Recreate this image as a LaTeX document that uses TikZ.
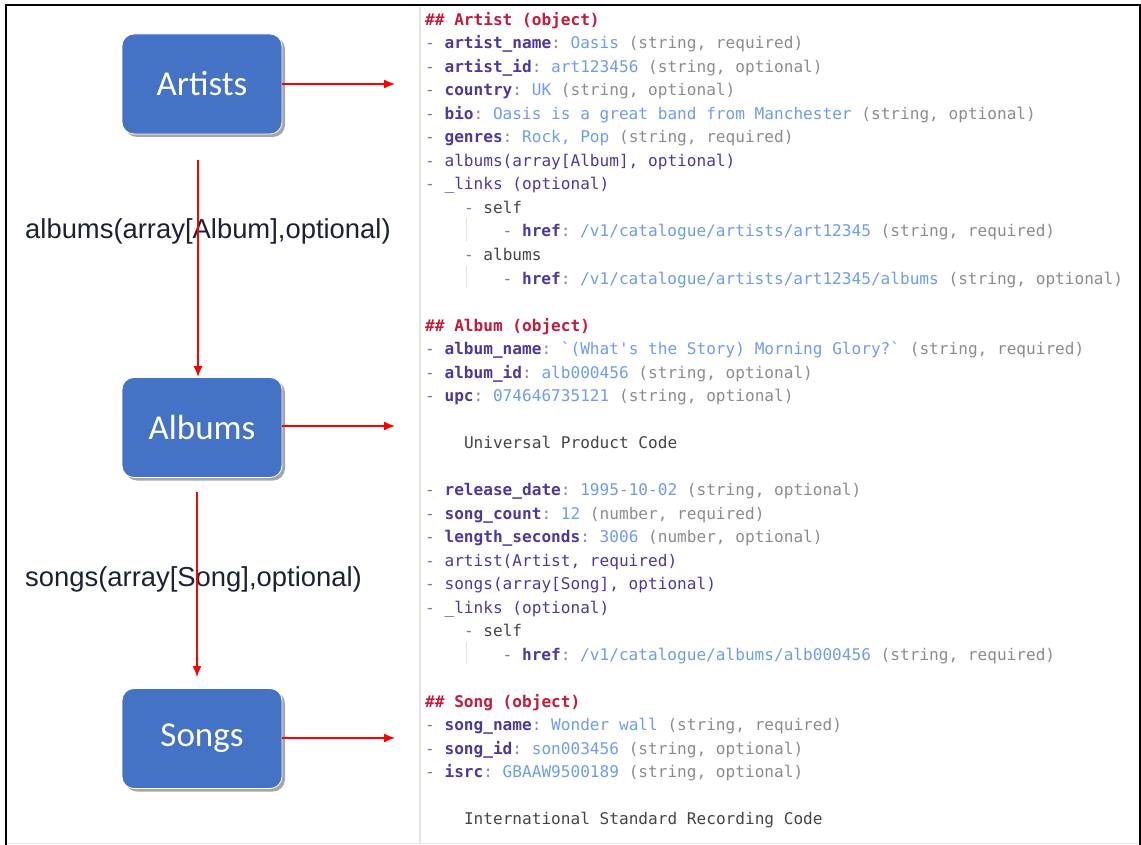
\documentclass[tikz,border=0pt]{standalone}
\usepackage{fontspec}
\usetikzlibrary{arrows.meta,shadows}
\newfontfamily\codefont{DejaVu Sans Mono}[WordSpace={1,0,0},PunctuationSpace=WordSpace,Ligatures=NoCommon]
\newfontfamily\boxfont{Carlito}
\newfontfamily\labfont{Liberation Sans}
\definecolor{hdr}{HTML}{C41A3B}
\definecolor{key}{HTML}{4B3A9E}
\definecolor{val}{HTML}{6E9CF0}
\definecolor{gry}{HTML}{8C8C8C}
\definecolor{dsh}{HTML}{6C7CAE}
\definecolor{txt}{HTML}{454545}
\definecolor{boxblue}{HTML}{4472C4}
\definecolor{labcol}{HTML}{1B2236}
\newcommand\chdr[1]{\textcolor{hdr}{\bfseries #1}}
\newcommand\ckey[1]{\textcolor{key}{\bfseries #1}}
\newcommand\cpur[1]{\textcolor{key}{#1}}
\newcommand\cval[1]{\textcolor{val}{#1}}
\newcommand\cgry[1]{\textcolor{gry}{#1}}
\newcommand\ctxt[1]{\textcolor{txt}{#1}}
\newcommand\cdash{\textcolor{dsh}{- }}
\begin{document}
\begin{tikzpicture}[x=1pt,y=-1pt,
  entity/.style={draw=white, line width=0.8pt, fill=boxblue, rounded corners=12pt,
    minimum width=160pt, minimum height=100pt, text=white,
    font=\boxfont\fontsize{35}{40}\selectfont,
    drop shadow={shadow xshift=3pt, shadow yshift=-3pt, opacity=0.35, fill=black}},
  code/.style={anchor=base west, inner sep=0pt, font=\codefont\fontsize{16.1}{19}\selectfont\frenchspacing, text=gry},
  rel/.style={anchor=west, inner sep=0pt, text=labcol, font=\labfont\fontsize{27.4}{30}\selectfont},
  link/.style={draw=red, line width=1.4pt, -{Latex[length=11pt,width=9pt]}},
  guide/.style={draw=black!12, line width=1pt}
]
\path[use as bounding box] (0,0) rectangle (1141,845);
% frame
\draw[black!10, line width=1.5pt] (6,843.5) -- (1140,843.5);
\draw[black!10, line width=2pt] (420,7) -- (420,843);
\draw[black, line width=2.5pt] (6,845) -- (6,5) -- (1140,5) -- (1140,845);

% entity boxes
\node[entity] (artists) at (202,84) {Artists};
\node[entity] (albums) at (202,427.5) {Albums};
\node[entity] (songs) at (202,738.5) {Songs};

% relation labels
\node[rel] (lab1) at (25,231.5) {albums(array[Album],optional)};
\node[rel] (lab2) at (25,579.5) {songs(array[Song],optional)};

% connectors
\coordinate (v1s) at (198,160);
\coordinate (v2s) at (197,492);
\coordinate (v2e) at (197,677);
\draw[link] (v1s) -- (v1s |- albums.north);
\draw[link] (v2s) -- (v2e);
\coordinate (h1) at (395,84);
\coordinate (h2) at (395,426);
\coordinate (h3) at (395,738);
\draw[link] (artists.east |- h1) -- (h1);
\draw[link] (albums.east |- h2) -- (h2);
\draw[link] (songs.east |- h3) -- (h3);

% guide lines
\draw[guide] (466,219) -- (466,241);
\draw[guide] (466,267) -- (466,288);
\draw[guide] (466,643) -- (466,664);

% Artist
\node[code] (l0) at (425,25.5) {\chdr{\#\# Artist (object)}};
\node[code] (l1) at (425,49) {\cdash\ckey{artist\_name}: \cval{Oasis} (string, required)};
\node[code] (l2) at (425,72.5) {\cdash\ckey{artist\_id}: \cval{art123456} (string, optional)};
\node[code] (l3) at (425,96) {\cdash\ckey{country}: \cval{UK} (string, optional)};
\node[code] (l4) at (425,119.5) {\cdash\ckey{bio}: \cval{Oasis is a great band from Manchester} (string, optional)};
\node[code] (l5) at (425,143) {\cdash\ckey{genres}: \cval{Rock, Pop} (string, required)};
\node[code] (l6) at (425,166.5) {\cdash\cpur{albums(array[Album], optional)}};
\node[code] (l7) at (425,190) {\cdash\cpur{\_links (optional)}};
\node[code] (l8) at (463.8,213.5) {\cdash\ctxt{self}};
\node[code] (l9) at (502.5,237) {\cdash\ckey{href}: \cval{/v1/catalogue/artists/art12345} (string, required)};
\node[code] (l10) at (463.8,260.5) {\cdash\ctxt{albums}};
\node[code] (l11) at (502.5,284) {\cdash\ckey{href}: \cval{/v1/catalogue/artists/art12345/albums} (string, optional)};

% Album
\node[code] (l13) at (425,331) {\chdr{\#\# Album (object)}};
\node[code] (l14) at (425,354.5) {\cdash\ckey{album\_name}: \cval{\symbol{96}(What\symbol{39}s the Story) Morning Glory?\symbol{96}} (string, required)};
\node[code] (l15) at (425,378) {\cdash\ckey{album\_id}: \cval{alb000456} (string, optional)};
\node[code] (l16) at (425,401.5) {\cdash\ckey{upc}: \cval{074646735121} (string, optional)};
\node[code] (l18) at (463.8,448.5) {\ctxt{Universal Product Code}};
\node[code] (l20) at (425,495.5) {\cdash\ckey{release\_date}: \cval{1995-10-02} (string, optional)};
\node[code] (l21) at (425,519) {\cdash\ckey{song\_count}: \cval{12} (number, required)};
\node[code] (l22) at (425,542.5) {\cdash\ckey{length\_seconds}: \cval{3006} (number, optional)};
\node[code] (l23) at (425,566) {\cdash\cpur{artist(Artist, required)}};
\node[code] (l24) at (425,589.5) {\cdash\cpur{songs(array[Song], optional)}};
\node[code] (l25) at (425,613) {\cdash\cpur{\_links (optional)}};
\node[code] (l26) at (463.8,636.5) {\cdash\ctxt{self}};
\node[code] (l27) at (502.5,660) {\cdash\ckey{href}: \cval{/v1/catalogue/albums/alb000456} (string, required)};

% Song
\node[code] (l29) at (425,707) {\chdr{\#\# Song (object)}};
\node[code] (l30) at (425,730.5) {\cdash\ckey{song\_name}: \cval{Wonder wall} (string, required)};
\node[code] (l31) at (425,754) {\cdash\ckey{song\_id}: \cval{son003456} (string, optional)};
\node[code] (l32) at (425,777.5) {\cdash\ckey{isrc}: \cval{GBAAW9500189} (string, optional)};
\node[code] (l34) at (463.8,824.5) {\ctxt{International Standard Recording Code}};
\end{tikzpicture}
\end{document}
